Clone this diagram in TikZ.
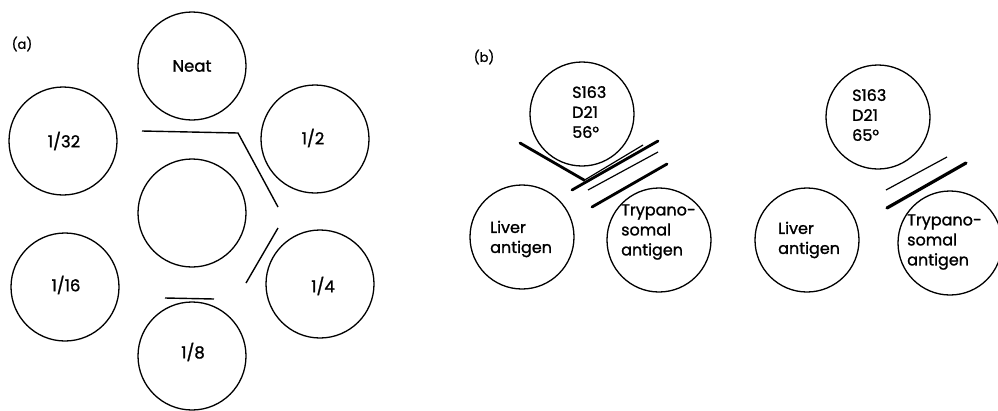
\documentclass[tikz,border=0pt]{standalone}
\usepackage{fontspec}
\setmainfont{Poppins}[FakeBold=1.2]
\begin{document}
\begin{tikzpicture}[x=1pt,y=-1pt,
  well/.style={draw, circle, line width=1.3pt, inner sep=0pt},
  wa/.style={well, minimum size=108pt},
  wb/.style={well, minimum size=104pt},
  lab/.style={font=\fontsize{16.5}{19}\selectfont},
  blab/.style={font=\fontsize{16}{20}\selectfont, align=left, anchor=west, inner sep=0pt},
  thinp/.style={line width=1.2pt},
  thickp/.style={line width=2.8pt, line cap=round}]
\useasboundingbox (0,0) rectangle (998,410);
% (a)
\node[lab, font=\fontsize{13}{15}\selectfont] (la) at (22,44) {(a)};
\node[wa] (neat) at (192,66) {};
\node[lab] (tneat) at (192,66) {Neat};
\node[wa] (c32) at (63,141) {};
\node[lab] (t32) at (64,141) {1/32};
\node[wa] (c2) at (315,139) {};
\node[lab] (t2) at (313,138) {1/2};
\node[wa] (cc) at (192,213) {};
\node[wa] (c16) at (65,287) {};
\node[lab] (t16) at (66,285) {1/16};
\node[wa] (c4) at (320,284) {};
\node[lab] (t4) at (323,286) {1/4};
\node[wa] (c8) at (192,356) {};
\node[lab] (t8) at (193,352) {1/8};
\draw[line width=1.4pt] (142,131) -- (238,133) -- (278,207);
\draw[line width=1.4pt] (278,228) -- (246,283);
\draw[line width=1.4pt] (165,298) -- (214,299);
% (b) first group
\node[lab, font=\fontsize{13}{15}\selectfont] (lb) at (484,57) {(b)};
\node[wb] (s1) at (582,114) {};
\node[blab] (ts1) at (572,112) {S163\\D21\\56°};
\node[wb] (l1) at (522,237) {};
\node[blab] (tl1) at (490,239) {Liver\\antigen};
\node[wb] (t1) at (659,240) {};
\node[blab] (tt1) at (621,232) {Trypano-\\somal\\antigen};
\draw[thickp] (520,143) -- (584,180);
\draw[thickp] (572,190) -- (658,141);
\draw[thinp] (583,181) -- (643,145);
\draw[thinp] (588,190) -- (658,152);
\draw[thickp] (592,207) -- (667,164);
% (b) second group
\node[wb] (s2) at (878,117) {};
\node[blab] (ts2) at (852,115) {S163\\D21\\65°};
\node[wb] (l2) at (807,240) {};
\node[blab] (tl2) at (778,240) {Liver\\antigen};
\node[wb] (t2b) at (950,243) {};
\node[blab] (tt2) at (907,242) {Trypano-\\somal\\antigen};
\draw[thinp] (886,190) -- (947,157);
\draw[thickp, line width=3.2pt] (887,208) -- (966,163);
\end{tikzpicture}
\end{document}
